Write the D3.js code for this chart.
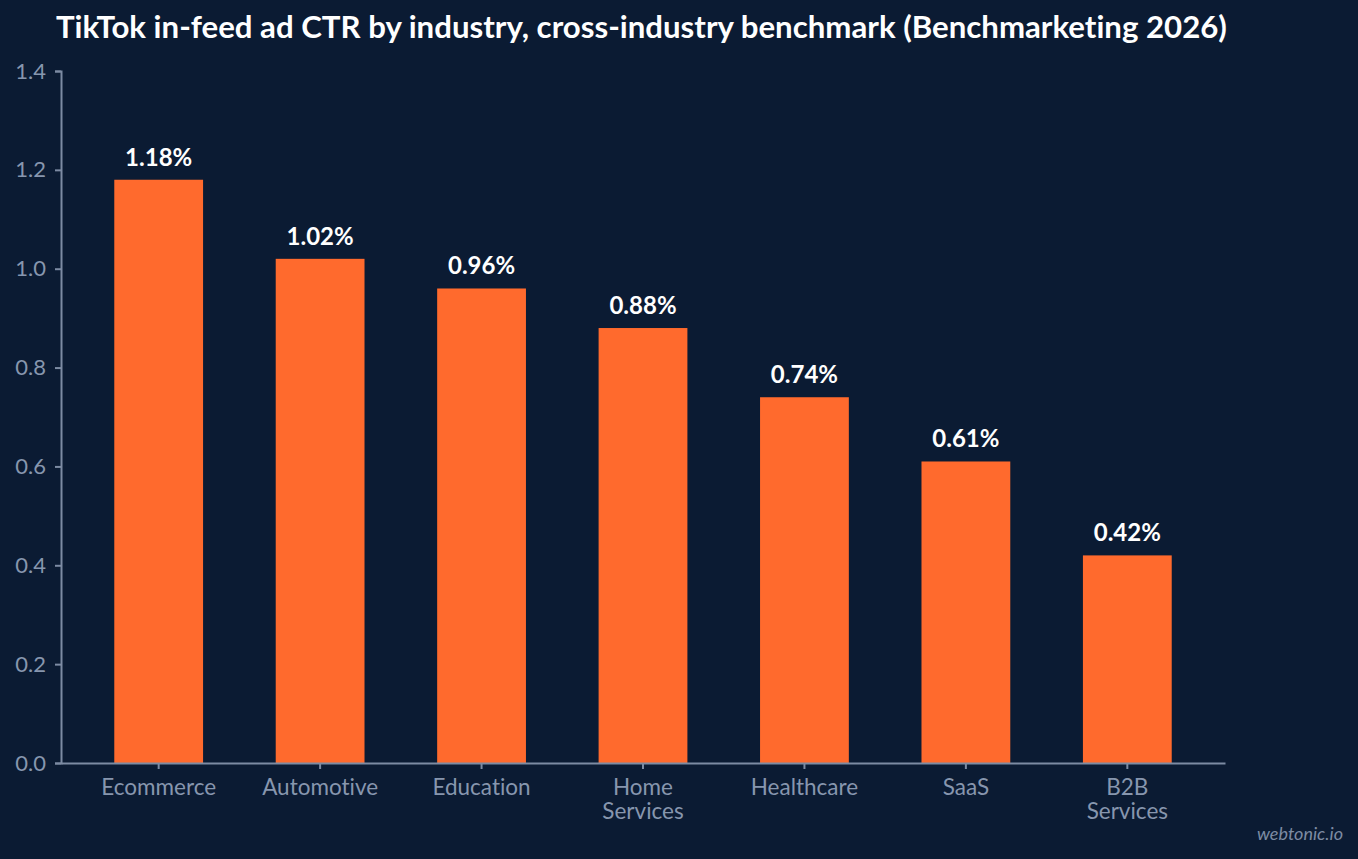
<!DOCTYPE html>
<html>
<head>
<meta charset="utf-8">
<script src="https://cdn.jsdelivr.net/npm/d3@7"></script>
<style>
  html, body { margin: 0; padding: 0; background: #0b1b33; }
  svg { display: block; font-family: Lato, "Open Sans", sans-serif; font-variant-ligatures: none; }
  .axis path, .axis line { stroke: #7d8ba3; stroke-width: 2; }
  .axis text { fill: #8796ae; font-family: Lato, sans-serif; }
  .axis.y text { font-size: 22px; }
  .axis.x text { font-size: 22.5px; }
</style>
</head>
<body>
<div id="graphic"></div>
<script>
// data
var industries = ["Ecommerce", "Automotive", "Education", "Home Services", "Healthcare", "SaaS", "B2B Services"];
var ctr = [1.18, 1.02, 0.96, 0.88, 0.74, 0.61, 0.42];
var yTicks = [0, 0.2, 0.4, 0.6, 0.8, 1.0, 1.2, 1.4];

var width = 1358, height = 859;
var margin = {top: 71, right: 133, bottom: 96, left: 61};
var chart_width = width - margin.left - margin.right;
var chart_height = height - margin.top - margin.bottom;

var data = industries.map((d, i) => ({name: d, value: ctr[i]}));

var svg = d3.select('#graphic').append('svg')
  .attr('width', width)
  .attr('height', height)
  .style('background-color', '#0b1b33');

// title
svg.append('text')
  .attr('x', 56)
  .attr('y', 38)
  .attr('fill', '#ffffff')
  .style('font-size', '31.2px')
  .style('font-weight', 700)
  .text('TikTok in-feed ad CTR by industry, cross-industry benchmark (Benchmarketing 2026)');

var g = svg.append('g')
  .attr('transform', 'translate(' + margin.left + ',' + margin.top + ')');

var x = d3.scaleBand()
  .domain(industries)
  .range([0, chart_width])
  .paddingInner(0.45)
  .paddingOuter(0.33);

var y = d3.scaleLinear()
  .domain([0, 1.4])
  .range([chart_height, 0]);

// bars
g.selectAll('rect.bar')
  .data(data)
  .join('rect')
  .attr('class', 'bar')
  .attr('x', d => x(d.name))
  .attr('width', x.bandwidth())
  .attr('y', d => y(d.value))
  .attr('height', d => chart_height - y(d.value))
  .attr('fill', '#ff6a2d');

// value labels
g.selectAll('text.valueLabel')
  .data(data)
  .join('text')
  .attr('class', 'valueLabel')
  .attr('x', d => x(d.name) + x.bandwidth() / 2)
  .attr('y', d => y(d.value) - 14)
  .attr('text-anchor', 'middle')
  .attr('fill', '#ffffff')
  .style('font-size', '24px')
  .style('font-weight', 700)
  .text(d => d.value.toFixed(2) + '%');

// y axis
g.append('g')
  .attr('class', 'axis y')
  .call(d3.axisLeft(y).tickValues(yTicks).tickFormat(d3.format('.1f')).tickSize(6).tickPadding(9));

// x axis
var xAxis = g.append('g')
  .attr('class', 'axis x')
  .attr('transform', 'translate(0,' + chart_height + ')')
  .call(d3.axisBottom(x).tickSize(6).tickPadding(10).tickSizeOuter(0));

// wrap two-word categories onto two lines
xAxis.selectAll('text').each(function(d) {
  var words = d.split(' ');
  var t = d3.select(this).text(null);
  words.forEach((w, i) => {
    t.append('tspan')
      .attr('x', 0)
      .attr('dy', i == 0 ? '0.71em' : '1.06em')
      .text(w);
  });
});

// watermark
svg.append('text')
  .attr('x', 1343)
  .attr('y', 840)
  .attr('text-anchor', 'end')
  .attr('fill', '#7d8ba3')
  .style('font-size', '18px')
  .style('font-style', 'italic')
  .text('webtonic.io');
</script>
</body>
</html>
